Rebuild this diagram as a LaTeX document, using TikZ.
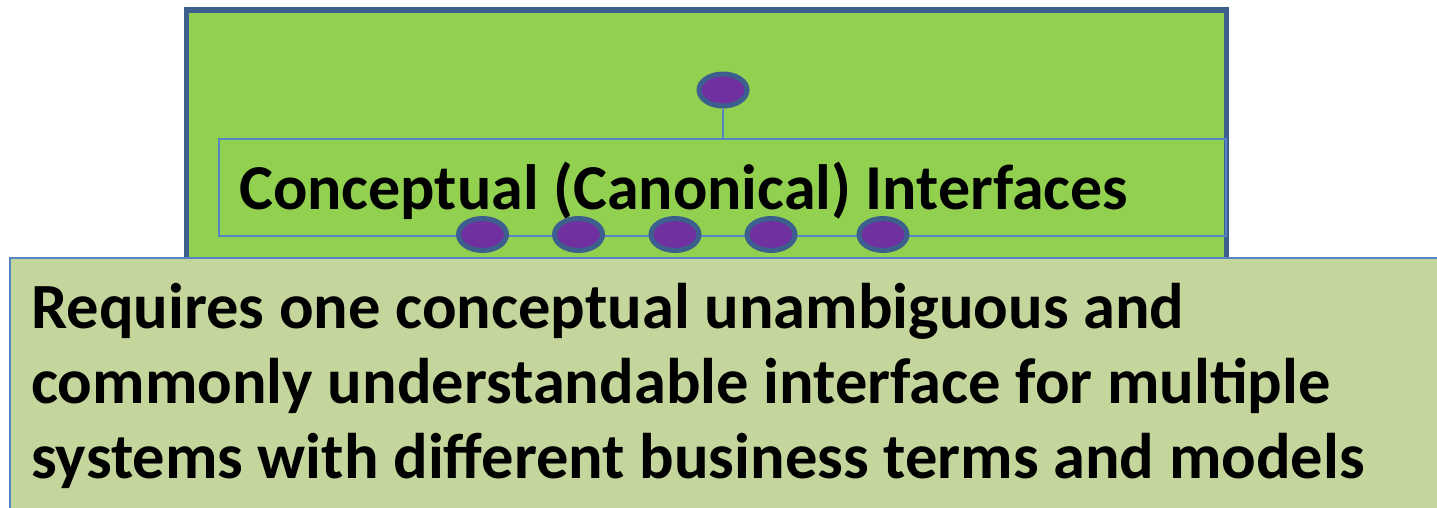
\documentclass[tikz,border=0pt]{standalone}
\usepackage{fontspec}
\setmainfont{Carlito}
\usetikzlibrary{shapes.geometric}

\definecolor{leaf}{HTML}{92D050}
\definecolor{navyedge}{HTML}{3D5F8E}
\definecolor{rule}{HTML}{5585C5}
\definecolor{sage}{HTML}{C4D69C}
\definecolor{plum}{HTML}{7030A0}

\tikzset{
  port/.style={ellipse, draw=navyedge, fill=plum, line width=5pt,
    minimum width=48pt, minimum height=32pt, inner sep=0pt},
  wire/.style={draw=rule, line width=1.6pt},
  title/.style={anchor=base west, inner sep=0pt, font=\bfseries\fontsize{64}{77}\selectfont},
  body/.style={anchor=base west, inner sep=0pt, font=\bfseries\fontsize{64.5}{75}\selectfont},
}

\begin{document}
\begin{tikzpicture}[x=1pt, y=-1pt]
  \useasboundingbox (0,0) rectangle (1437,507);
  \begin{scope}
    \clip (0,0) rectangle (1437,507);

    % outer service block
    \draw[draw=navyedge, fill=leaf, line width=5.5pt] (186.5,10) rectangle (1226.5,330);

    % interface bar
    \node[draw=rule, line width=1.6pt, minimum width=1007pt, minimum height=97pt,
          inner sep=0pt, anchor=north west] (iface) at (218,138) {};
    \node[title] (ititle) at (239,209) {Conceptual (Canonical) Interfaces};

    % provided port on top
    \node[port] (top) at (723,90) {};
    \draw[wire] (top.south) -- (top.south |- iface.north);

    % required ports along the bottom edge
    \node[port] (p1) at (482.5,234.5) {};
    \node[port] (p2) at (578.5,234.5) {};
    \node[port] (p3) at (675,234.5) {};
    \node[port] (p4) at (771,234.5) {};
    \node[port] (p5) at (883,234.5) {};

    % note panel
    \draw[draw=rule, fill=sage, line width=1.6pt] (10,258) rectangle (1460,540);
    \node[body] (l1) at (31,328.5) {Requires one conceptual unambiguous and};
    \node[body] (l2) at (31,403.5) {commonly understandable interface for multiple};
    \node[body] (l3) at (31,478) {systems with different business terms and models};
  \end{scope}
\end{tikzpicture}
\end{document}
